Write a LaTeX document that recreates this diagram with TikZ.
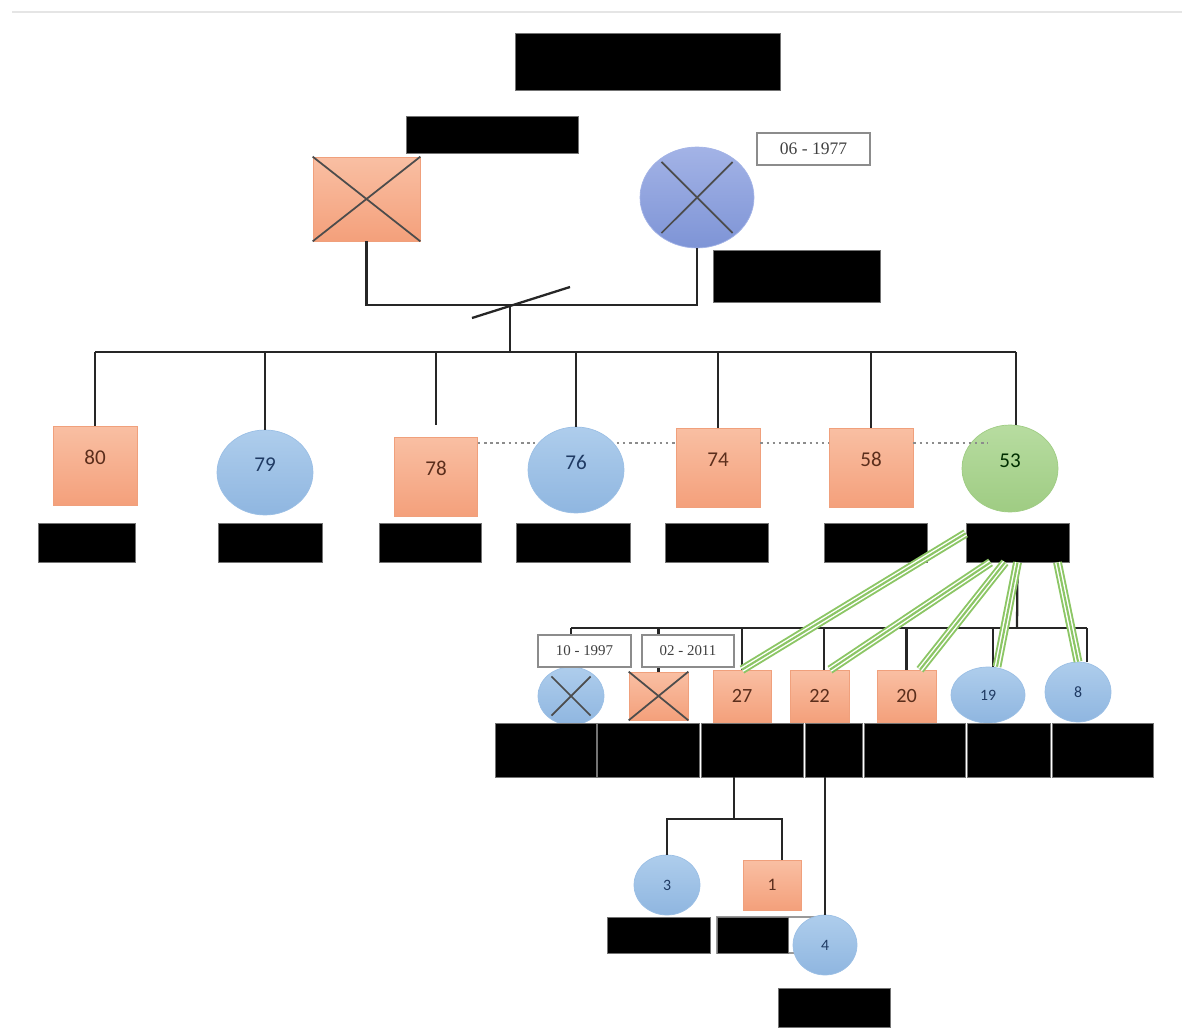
\documentclass[tikz,border=0pt]{standalone}
\usepackage{fontspec}
\setmainfont{Carlito}
\newfontfamily\datefont{Liberation Serif}
\usetikzlibrary{shapes.geometric}

\definecolor{sqtop}{HTML}{F9BFA3}
\definecolor{sqbot}{HTML}{F4A07B}
\definecolor{sqline}{HTML}{F0A07C}
\definecolor{cirtop}{HTML}{AECDEC}
\definecolor{cirbot}{HTML}{8FB6E0}
\definecolor{cirline}{HTML}{9BBFE5}
\definecolor{motop}{HTML}{A3B3E6}
\definecolor{mobot}{HTML}{7E94D6}
\definecolor{grtop}{HTML}{B7DCA0}
\definecolor{grbot}{HTML}{9FCC83}
\definecolor{bondgreen}{HTML}{8CC665}
\definecolor{sqtext}{HTML}{5B2E1C}
\definecolor{cirtext}{HTML}{1F3A63}

\tikzset{
  male/.style={rectangle, draw=sqline, top color=sqtop, bottom color=sqbot, inner sep=0pt, text=sqtext},
  female/.style={ellipse, draw=cirline, top color=cirtop, bottom color=cirbot, inner sep=0pt, text=cirtext},
  gentwo/.style={font=\fontsize{12}{14}\selectfont, text depth=0.32cm},
  namebar/.style={rectangle, fill=black, draw=black!55, line width=0.4pt, inner sep=0pt},
  datebox/.style={rectangle, draw=black!45, line width=0.8pt, fill=white, inner sep=0pt, text=black!75},
  link/.style={draw=black!85, line width=1.3pt},
  partner/.style={draw=black!45, line width=1.1pt, dash pattern=on 1.5pt off 2pt},
  bond/.style={draw=bondgreen, line width=5pt, postaction={draw=white, line width=2.8pt}, postaction={draw=bondgreen, line width=1.2pt}},
  xmark/.style={draw=black!70, line width=1pt},
}

\begin{document}
\begin{tikzpicture}[x=0.02cm, y=-0.02cm]
\useasboundingbox (0,0) rectangle (1182,1030);
\draw[black!10, line width=1.5pt] (12,12) -- (1182,12);

% parents
\node[namebar, minimum width=5.3cm, minimum height=1.14cm] (ntitle) at (647.5,61.5) {};
\node[namebar, minimum width=3.44cm, minimum height=0.74cm] (nfa) at (492,134.5) {};
\node[male, minimum width=2.14cm, minimum height=1.68cm] (fa) at (366.5,199) {};
\node[female, draw=motop, top color=motop, bottom color=mobot, minimum width=2.28cm, minimum height=2.02cm] (mo) at (697,197.5) {};
\node[datebox, font=\datefont\fontsize{10}{12}\selectfont, minimum width=2.26cm, minimum height=0.64cm] (dmo) at (813.5,149) {06 - 1977};
\node[namebar, minimum width=3.34cm, minimum height=1.04cm] (nmo) at (796.5,276) {};
\draw[xmark] (fa.north west) -- (fa.south east);
\draw[xmark] (fa.north east) -- (fa.south west);
\draw[xmark, shorten <=2pt, shorten >=2pt] (mo.135) -- (mo.-45);
\draw[xmark, shorten <=2pt, shorten >=2pt] (mo.45) -- (mo.-135);

% children
\node[male, gentwo, minimum width=1.68cm, minimum height=1.58cm] (c80) at (95,465.5) {80};
\node[female, gentwo, minimum width=1.92cm, minimum height=1.70cm] (c79) at (265,472.5) {79};
\node[male, gentwo, minimum width=1.66cm, minimum height=1.58cm] (c78) at (436,476.5) {78};
\node[female, gentwo, minimum width=1.92cm, minimum height=1.72cm] (c76) at (576,470) {76};
\node[male, gentwo, minimum width=1.68cm, minimum height=1.58cm] (c74) at (718,467.5) {74};
\node[male, gentwo, minimum width=1.68cm, minimum height=1.58cm] (c58) at (871,467.5) {58};
\node[female, gentwo, draw=grbot, top color=grtop, bottom color=grbot, text=black!70!green!60!black, minimum width=1.92cm, minimum height=1.74cm] (c53) at (1010,468.5) {53};

\node[namebar, minimum width=1.94cm, minimum height=0.78cm] (n80) at (86.5,542.5) {};
\node[namebar, minimum width=2.08cm, minimum height=0.78cm] (n79) at (270,542.5) {};
\node[namebar, minimum width=2.04cm, minimum height=0.78cm] (n78) at (430,542.5) {};
\node[namebar, minimum width=2.28cm, minimum height=0.78cm] (n76) at (573,542.5) {};
\node[namebar, minimum width=2.06cm, minimum height=0.78cm] (n74) at (716.5,542.5) {};
\node[namebar, minimum width=2.06cm, minimum height=0.78cm] (n58) at (875.5,542.5) {};
\node[namebar, minimum width=2.06cm, minimum height=0.78cm] (n53) at (1017.5,542.5) {};

\coordinate (mar) at (510,305);
\coordinate (sib) at (510,352);
\draw[link] (fa.south) |- (mar) -| (mo.south);
\draw[link] ([shift={(-38,13)}]mar) -- ([shift={(60,-18)}]mar);
\draw[link] (mar) -- (sib);
\draw[link] (c80 |- sib) -- ([xshift=0.12cm]c53 |- sib);
\draw[link] (c80 |- sib) -- (c80.north);
\draw[link] (c79 |- sib) -- (c79.north);
\draw[link] (c78 |- sib) -- ([yshift=0.24cm]c78.north);
\draw[link] (c76 |- sib) -- (c76.north);
\draw[link] (c74 |- sib) -- (c74.north);
\draw[link] (c58 |- sib) -- (c58.north);
\draw[link] ([xshift=0.12cm]c53 |- sib) -- ([xshift=0.12cm]c53.north);

\coordinate (py) at (0,443);
\draw[partner] (c78.east |- py) -- (c76.150 |- py);
\draw[partner] (c76.30 |- py) -- (c74.west |- py);
\draw[partner] (c74.east |- py) -- (c58.west |- py);
\draw[partner] (c58.east |- py) -- ([xshift=0.24cm]c53.north west |- py);

% grandchildren
\node[female, minimum width=1.32cm, minimum height=1.16cm] (x1) at (571,696) {};
\node[male, minimum width=1.18cm, minimum height=0.96cm] (x2) at (658.5,696) {};
\node[male, font=\fontsize{11.5}{13}\selectfont, minimum width=1.16cm, minimum height=1.04cm] (s27) at (742,696) {27};
\node[male, font=\fontsize{11.5}{13}\selectfont, minimum width=1.18cm, minimum height=1.04cm] (s22) at (819.5,696) {22};
\node[male, font=\fontsize{11.5}{13}\selectfont, minimum width=1.18cm, minimum height=1.04cm] (s20) at (906.5,696) {20};
\node[female, font=\fontsize{9}{11}\selectfont, minimum width=1.48cm, minimum height=1.12cm] (c19) at (988,695) {19};
\node[female, font=\fontsize{9}{11}\selectfont, minimum width=1.32cm, minimum height=1.20cm] (c8) at (1078,692) {8};
\draw[xmark, shorten <=2pt, shorten >=2pt] (x1.135) -- (x1.-45);
\draw[xmark, shorten <=2pt, shorten >=2pt] (x1.45) -- (x1.-135);
\draw[xmark] (x2.north west) -- (x2.south east);
\draw[xmark] (x2.north east) -- (x2.south west);

\node[namebar, minimum width=2.02cm, minimum height=1.08cm] (bx1) at (545.5,750) {};
\node[namebar, minimum width=2.04cm, minimum height=1.08cm] (bx2) at (648,750) {};
\node[namebar, minimum width=2.04cm, minimum height=1.08cm] (n27) at (752,750) {};
\node[namebar, minimum width=1.14cm, minimum height=1.08cm] (n22) at (833.5,750) {};
\node[namebar, minimum width=2.02cm, minimum height=1.08cm] (n20) at (914.5,750) {};
\node[namebar, minimum width=1.66cm, minimum height=1.08cm] (n19) at (1008.5,750) {};
\node[namebar, minimum width=2.02cm, minimum height=1.08cm] (n8) at (1102.5,750) {};

\coordinate (kb) at (1017,628);
\draw[link] (n53.south) -- (kb);
\draw[link] (x1 |- kb) -- ([xshift=0.18cm]c8 |- kb);
\draw[link] (x1 |- kb) -- (x1.north);
\draw[link] (x2 |- kb) -- (x2.north);
\draw[link] (s27 |- kb) -- (s27.north);
\draw[link] ([xshift=0.09cm]s22 |- kb) -- ([xshift=0.09cm]s22.north);
\draw[link] (s20 |- kb) -- (s20.north);
\draw[link] ([xshift=0.1cm]c19 |- kb) -- ([xshift=0.1cm]c19.north);
\draw[link] ([xshift=0.18cm]c8 |- kb) -- ([xshift=0.18cm]c8.north);

\node[datebox, font=\datefont\fontsize{8.5}{10}\selectfont, minimum width=1.86cm, minimum height=0.64cm] (dx1) at (584.5,651) {10 - 1997};
\node[datebox, font=\datefont\fontsize{8.5}{10}\selectfont, minimum width=1.84cm, minimum height=0.64cm] (dx2) at (688,651) {02 - 2011};

\draw[bond] (n53.170) -- (s27.north);
\draw[bond] ([xshift=-0.54cm]n53.south) -- ([xshift=0.21cm]s22.north);
\draw[bond] ([xshift=-0.25cm]n53.south) -- ([xshift=0.27cm]s20.north);
\draw[bond] (n53.south) -- ([xshift=0.18cm]c19.north);
\draw[bond] ([xshift=0.8cm]n53.south) -- (c8.north);

% great-grandchildren
\node[female, font=\fontsize{9}{11}\selectfont, minimum width=1.32cm, minimum height=1.20cm] (c3) at (667,885) {3};
\node[male, font=\fontsize{10}{12}\selectfont, minimum width=1.16cm, minimum height=1.0cm] (s1) at (772,885) {1};
\node[draw=black!40, line width=0.6pt, inner sep=0pt, minimum width=2.26cm, minimum height=0.72cm] (b1frame) at (773.5,935) {};
\node[namebar, minimum width=2.06cm, minimum height=0.72cm] (b3) at (658.5,935) {};
\node[namebar, minimum width=1.42cm, minimum height=0.72cm] (b1) at (752.5,935) {};
\node[female, font=\fontsize{9}{11}\selectfont, minimum width=1.28cm, minimum height=1.20cm] (c4) at (825,945) {4};
\node[namebar, minimum width=2.24cm, minimum height=0.78cm] (b4) at (834,1007.5) {};

\coordinate (kb2) at (734,819);
\draw[link] (n27.south -| kb2) -- (kb2);
\draw[link] (c3.north) |- (kb2) -| ([xshift=0.2cm]s1.north);
\draw[link] (n22.south -| c4) -- (c4.north);
\end{tikzpicture}
\end{document}
